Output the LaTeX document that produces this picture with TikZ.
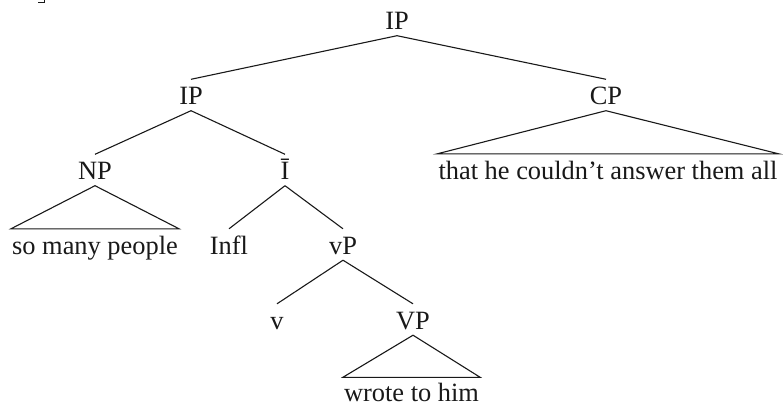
\documentclass[tikz,border=0pt]{standalone}
\usepackage{fontspec}
\setmainfont{Liberation Serif}
\begin{document}
\begin{tikzpicture}[x=1pt,y=-1pt,
  lbl/.style={anchor=base, inner xsep=1pt, inner ysep=3pt, text height=22pt, text depth=3pt, font=\fontsize{26.4}{30}\selectfont, text={rgb,255:red,25;green,25;blue,25}},
  leaf/.style={lbl, text depth=1pt, inner ysep=2pt},
  edge/.style={line width=1.1pt, draw={rgb,255:red,25;green,25;blue,25}, line join=miter}]
\useasboundingbox (0,0) rectangle (783,404);
\node[lbl] (ip0) at (397,29.5) {IP};
\node[lbl] (ip1) at (191,104.5) {IP};
\node[lbl] (cp) at (606,104.5) {CP};
\node[lbl] (np) at (95,179.5) {NP};
\node[lbl] (ibar) at (285,179.5) {Ī};
\node[lbl] (cpt) at (608,179) {that he couldn’t answer them all};
\node[lbl] (npt) at (95,254) {so many people};
\node[lbl] (infl) at (229,254) {Infl};
\node[lbl] (vp1) at (343,254) {vP};
\node[lbl] (v) at (277,329) {v};
\node[lbl] (vp2) at (413,329) {VP};
\node[leaf] (vpt) at (411.5,401.5) {wrote to him};
\coordinate (m1) at (38,2);
\coordinate (m2) at (44,2);
\coordinate (m3) at (44,0);
\draw[edge, line width=0.9pt] (m1) -- (m2) -- (m3);
\draw[edge] (ip0.south) -- (ip1.north);
\draw[edge] (ip0.south) -- (cp.north);
\draw[edge] (ip1.south) -- (np.north);
\draw[edge] (ip1.south) -- (ibar.north);
\draw[edge] (cp.south) -- (cpt.north west) -- (cpt.north east) -- cycle;
\draw[edge] (np.south) -- (npt.north west) -- (npt.north east) -- cycle;
\draw[edge] (ibar.south) -- (infl.north);
\draw[edge] (ibar.south) -- (vp1.north);
\draw[edge] (vp1.south) -- (v.north);
\draw[edge] (vp1.south) -- (vp2.north);
\draw[edge] (vp2.south) -- (vpt.north west) -- (vpt.north east) -- cycle;
\end{tikzpicture}
\end{document}
